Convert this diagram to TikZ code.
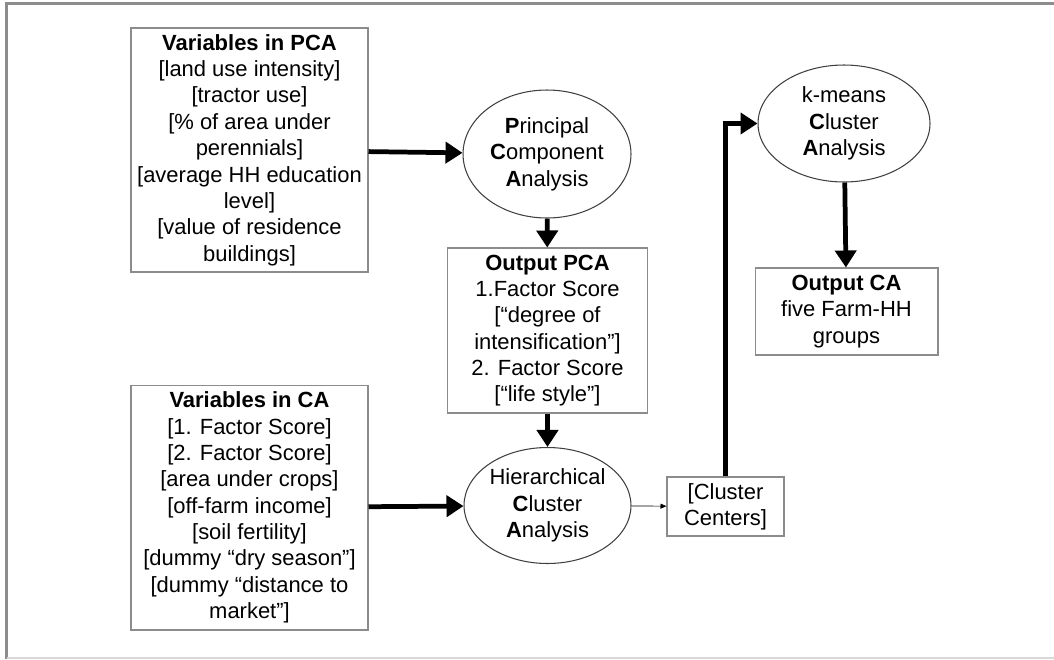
\documentclass[tikz,border=0pt]{standalone}
\usepackage{fontspec}
\setmainfont{Liberation Sans}
\usetikzlibrary{arrows.meta,shapes.geometric}

\begin{document}
\begin{tikzpicture}[x=0.02cm,y=-0.02cm,
  every node/.style={align=center,inner sep=0pt,font=\fontsize{12.5}{15}\selectfont},
  box/.style={draw=black!45,line width=0.6pt},
  proc/.style={draw=black!75,ellipse,line width=0.6pt},
  edge/.style={line width=2.7pt,-{Triangle[length=0.34cm,width=0.42cm]}},
  link/.style={line width=0.4pt,-{Triangle[length=1.2mm,width=1mm]}}
  ]
  \useasboundingbox (0,0) rectangle (1054,659);

  % frame
  \draw[black!45,line width=1.2pt] (1054,3.5) -- (6.5,3.5) -- (6.5,659);
  \draw[black!15,line width=1pt] (6.5,658) -- (1054,658);

  % inputs
  \node[box,minimum width=4.74cm,minimum height=4.88cm] (vpca) at (249.5,150)
    {\textbf{Variables in PCA}\\{[}land use intensity]\\{[}tractor use]\\{[}\% of area under\\perennials]\\{[}average HH education\\level]\\{[}value of residence\\buildings]};
  \node[box,minimum width=4.74cm,minimum height=4.9cm] (vca) at (249.5,507.5)
    {\textbf{Variables in CA}\\{[}1. Factor Score]\\{[}2. Factor Score]\\{[}area under crops]\\{[}off-farm income]\\{[}soil fertility]\\{[}dummy “dry season”]\\{[}dummy “distance to\\market”]};

  % analyses
  \node[proc,minimum width=3.36cm,minimum height=2.56cm] (pca) at (547,154)
    {\textbf{P}rincipal\\\textbf{C}omponent\\\textbf{A}nalysis};
  \node[proc,minimum width=3.34cm,minimum height=2.32cm] (hca) at (547.5,505.5)
    {Hierarchical\\\textbf{C}luster\\\textbf{A}nalysis};
  \node[proc,minimum width=3.44cm,minimum height=2.34cm] (kca) at (844,123.5)
    {k-means\\\textbf{C}luster\\\textbf{A}nalysis};

  % outputs
  \node[box,minimum width=4.0cm,minimum height=3.3cm] (opca) at (547.5,330.5)
    {\textbf{Output PCA}\\1.Factor Score\\{[}“degree of\\intensification”]\\2. Factor Score\\{[}“life style”]};
  \node[box,minimum width=2.34cm,minimum height=1.18cm] (cc) at (725.5,506.5)
    {{[}Cluster\\Centers]};
  \node[box,minimum width=3.66cm,minimum height=1.74cm] (oca) at (846.5,311.5)
    {\textbf{Output CA}\\five Farm-HH\\groups};

  \draw[edge] (vpca) -- (pca);
  \draw[edge] (pca) -- (opca);
  \draw[edge] (opca) -- (hca);
  \draw[edge] (vca) -- (hca);
  \draw[link] (hca) -- (cc);
  \draw[edge] (cc.north) |- (kca.west);
  \draw[edge] (kca) -- (oca);
\end{tikzpicture}
\end{document}
